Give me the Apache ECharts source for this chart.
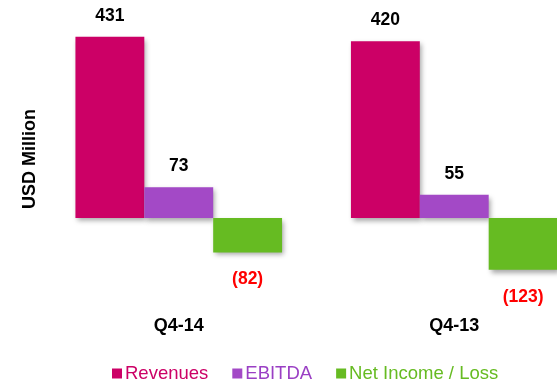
<!DOCTYPE html>
<html>
<head>
<meta charset="utf-8">
<script src="https://cdn.jsdelivr.net/npm/echarts@6/dist/echarts.min.js"></script>
<style>
  html, body { margin: 0; padding: 0; background: #fff; }
  #chart { width: 557px; height: 380px; }
</style>
</head>
<body>
<div id="chart"></div>
<script>
// Quarterly results, USD million
var quarters = ['Q4-14', 'Q4-13'];
var revenues = [431, 420];
var ebitda = [73, 55];
var netIncome = [-82, -123];

var seriesNames = ['Revenues', 'EBITDA', 'Net Income / Loss'];
var seriesColors = ['#cc0066', '#a349c6', '#66bb22'];
var legendTextColors = ['#cc0066', '#9a3fc4', '#66bb22'];

function formatValue(p) {
  return p.value < 0 ? '(' + Math.abs(p.value) + ')' : String(p.value);
}

function makeSeries(name, values, color) {
  return {
    name: name,
    type: 'bar',
    data: values.map(function (v) {
      return {
        value: v,
        label: {
          position: v < 0 ? 'bottom' : 'top',
          distance: v < 0 ? 18 : 12,
          color: v < 0 ? '#ff0000' : '#000000'
        }
      };
    }),
    barGap: '0%',
    barCategoryGap: '25%',
    itemStyle: {
      color: color,
      shadowColor: 'rgba(0,0,0,0.35)',
      shadowBlur: 5,
      shadowOffsetX: 2,
      shadowOffsetY: 3
    },
    label: {
      show: true,
      formatter: formatValue,
      fontFamily: 'Liberation Sans, Arial, sans-serif',
      fontWeight: 'bold',
      fontSize: 17.5
    }
  };
}

var chart = echarts.init(document.getElementById('chart'), null, { renderer: 'canvas' });

chart.setOption({
  animation: false,
  backgroundColor: '#ffffff',
  // the plot area runs past the right edge so the last bar touches the border
  grid: { left: 41, top: 28.7, width: 551, height: 252.4, containLabel: false, outerBoundsMode: 'none' },
  legend: {
    left: 107,
    top: 359,
    itemWidth: 10,
    itemHeight: 10,
    itemGap: 24,
    icon: 'rect',
    data: seriesNames.map(function (n, i) {
      return {
        name: n,
        textStyle: { color: legendTextColors[i] }
      };
    }),
    textStyle: {
      fontFamily: 'Liberation Sans, Arial, sans-serif',
      fontSize: 18.5,
      padding: [0, 0, 0, -2]
    }
  },
  xAxis: {
    type: 'category',
    data: quarters,
    axisLine: { show: false },
    axisTick: { show: false },
    axisLabel: {
      margin: 36,
      color: '#000000',
      fontFamily: 'Liberation Sans, Arial, sans-serif',
      fontWeight: 'bold',
      fontSize: 18
    }
  },
  yAxis: {
    type: 'value',
    min: -150,
    max: 450,
    show: false,
    splitLine: { show: false }
  },
  graphic: [{
    type: 'text',
    x: 30,
    y: 159,
    rotation: Math.PI / 2,
    style: {
      text: 'USD Million',
      fill: '#000000',
      font: 'bold 18px "Liberation Sans", Arial, sans-serif',
      align: 'center',
      verticalAlign: 'middle'
    }
  }],
  series: [
    makeSeries(seriesNames[0], revenues, seriesColors[0]),
    makeSeries(seriesNames[1], ebitda, seriesColors[1]),
    makeSeries(seriesNames[2], netIncome, seriesColors[2])
  ]
});
</script>
</body>
</html>
